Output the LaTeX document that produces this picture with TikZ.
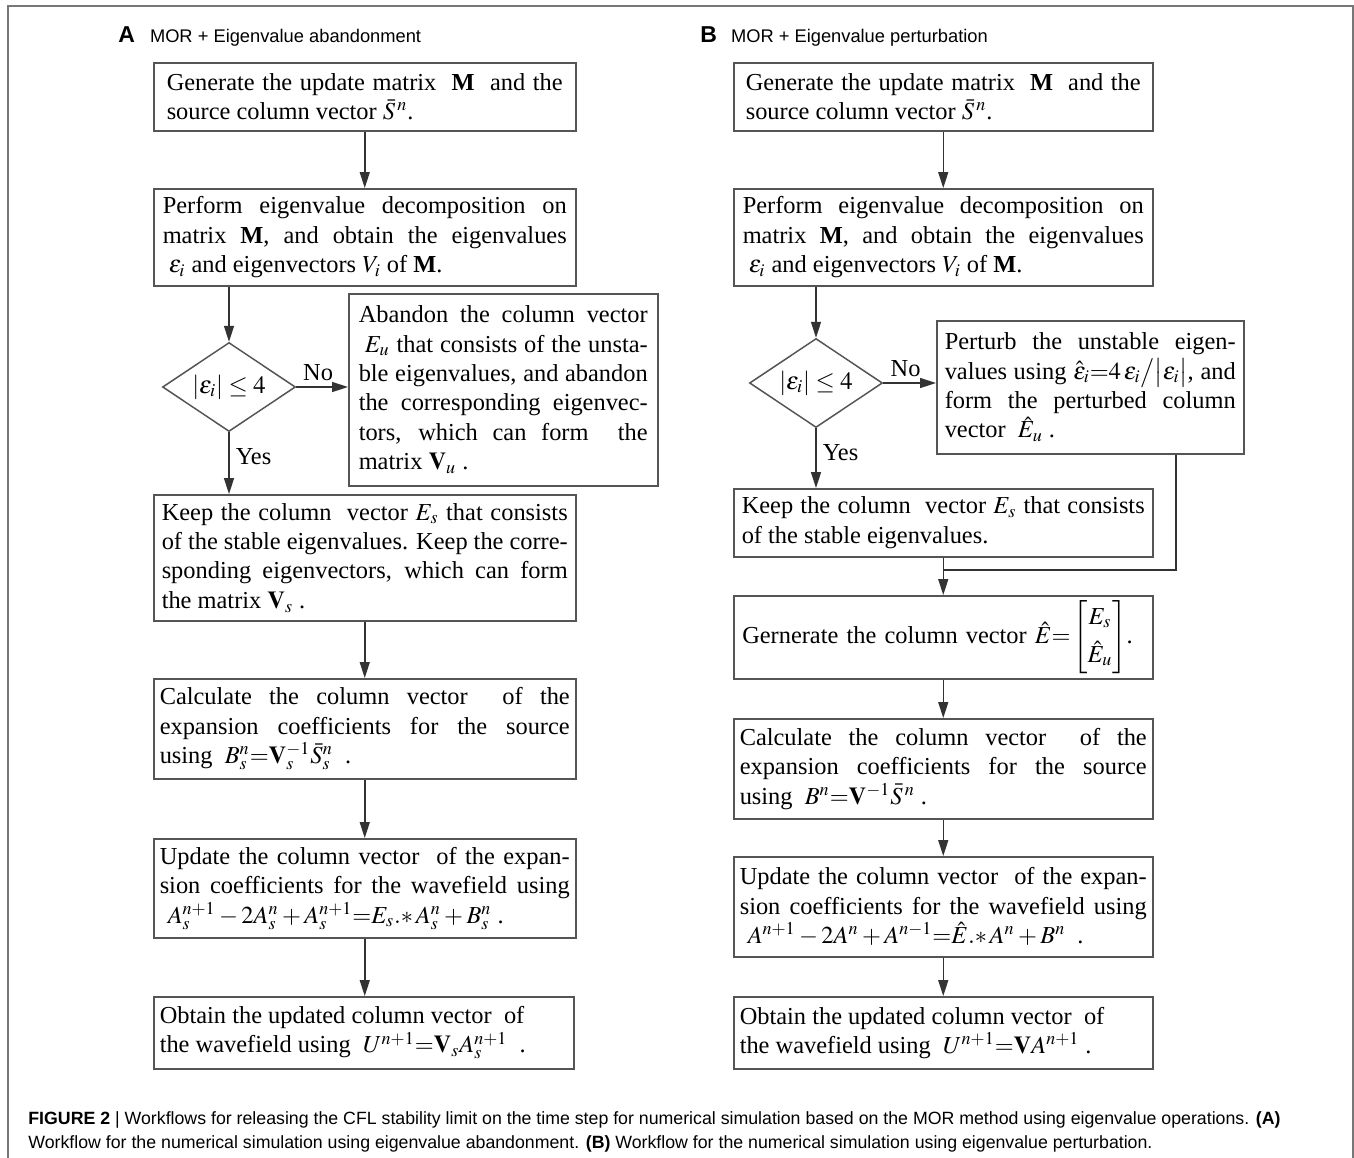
\documentclass[tikz,border=0pt]{standalone}
\usepackage{amsmath}
\usepackage{mathptmx}
\usepackage{fontspec}
\setmainfont{Liberation Serif}
\newfontfamily\sansf{Liberation Sans}
\usetikzlibrary{shapes.geometric,arrows.meta}
\definecolor{boxline}{HTML}{555555}
\definecolor{arrline}{HTML}{333333}
\definecolor{frameline}{HTML}{777777}
\begin{document}
\begin{tikzpicture}[x=0.5pt,y=-0.5pt,
  every node/.style={inner sep=0pt},
  box/.style={draw=boxline, line width=0.75pt, align=justify, inner xsep=3pt, inner ysep=0pt, anchor=north west, font=\fontsize{12.2}{14.7}\selectfont},
  dec/.style={draw=boxline, line width=0.75pt, diamond, aspect=1.5, minimum width=66.5pt, minimum height=44.5pt, inner sep=0pt, font=\fontsize{12.4}{14.7}\selectfont},
  arr/.style={draw=arrline, line width=0.75pt, -{Triangle[length=8pt,width=5pt]}},
  ln/.style={draw=arrline, line width=0.75pt},
  lbl/.style={font=\fontsize{12.2}{14.7}\selectfont},
  hdr/.style={anchor=base west, font=\sansf\fontsize{9.15}{11}\selectfont},
  captxt/.style={anchor=base west, font=\sansf\fontsize{8.87}{11}\selectfont}]
\useasboundingbox (0,0) rectangle (1354,1157);
\fill[white] (0,0) rectangle (1354,1157);
\draw[frameline, line width=0.8pt] (8,1160) -- (8,6) -- (1353,6) -- (1353,1160);

% headers
\node[hdr] (hA) at (118,42) {{\fontsize{11.5}{13}\selectfont\bfseries A}\hspace{7.5pt}MOR + Eigenvalue abandonment};
\node[hdr] (hB) at (700,42) {{\fontsize{11.5}{13}\selectfont\bfseries B}\hspace{7pt}MOR + Eigenvalue perturbation};

% panel A
\node[box, inner xsep=6.5pt, text width=198pt, minimum height=34pt] (A1) at (153,62)
  {Generate the update matrix \ \textbf{M} \ and the\linebreak source column vector $\bar{S}^{\,n}$.};
\node[box, inner xsep=4.5pt, text width=202pt, minimum height=48.5pt] (A2) at (153,188)
  {Perform eigenvalue decomposition on\linebreak matrix \textbf{M}, and obtain the eigenvalues\linebreak \hspace*{3pt}$\varepsilon_i$ and eigenvectors $V_i$ of \textbf{M}.};
\node[dec] (DA) at (229,387) {$\left|\varepsilon_i\right|\le 4$};
\node[box, inner xsep=5pt, text width=144.5pt, minimum height=96pt] (A3) at (348,293)
  {Abandon the column vector\linebreak \hspace*{3pt}$E_u$ that consists of the unsta-\linebreak ble eigenvalues, and abandon\linebreak the corresponding eigenvec-\linebreak tors, which can form \ the\linebreak matrix $\mathbf{V}_u$ .};
\node[box, inner xsep=4pt, text width=203pt, minimum height=63pt] (A4) at (153,494)
  {Keep the column \ vector $E_s$ that consists\linebreak of the stable eigenvalues. Keep the corre-\linebreak sponding eigenvectors, which can form\linebreak the matrix $\mathbf{V}_s$ .};
\node[box, text width=205pt, minimum height=50pt] (A5) at (153,678)
  {Calculate the column vector \ of the\linebreak expansion coefficients for the source\linebreak using \ $B_s^n{=}\mathbf{V}_s^{-1}\bar{S}_s^n$ \ .};
\node[box, text width=205pt, minimum height=49.5pt] (A6) at (153,838)
  {Update the column vector \ of the expan-\linebreak sion coefficients for the wavefield using\linebreak \hspace*{4pt}$A_s^{n+1}-2A_s^n+A_s^{n+1}{=}E_s.{*}\,A_s^n+B_s^n$ .};
\node[box, text width=204pt, minimum height=36pt] (A7) at (153,996)
  {Obtain the updated column vector \ of\\ the wavefield using \ $U^{n+1}{=}\mathbf{V}_s A_s^{n+1}$ \ .};

\draw[arr] (A1.south) -- (A2.north);
\draw[arr] (A2.south -| DA.north) -- (DA.north);
\draw[arr] (DA.east) -- (DA.east -| A3.west) node[lbl, midway, above=3pt, xshift=-2pt] (noA) {No};
\draw[arr] (DA.south) -- (DA.south |- A4.north) node[lbl, pos=0.4, right=3pt] (yesA) {Yes};
\draw[arr] (A4.south) -- (A5.north);
\draw[arr] (A5.south) -- (A6.north);
\draw[arr] (A6.south) -- (A6.south |- A7.north);

% panel B
\node[box, inner xsep=6pt, text width=197.5pt, minimum height=34pt] (B1) at (733,62)
  {Generate the update matrix \ \textbf{M} \ and the\linebreak source column vector $\bar{S}^{\,n}$.};
\node[box, inner xsep=4.5pt, text width=200.5pt, minimum height=48.5pt] (B2) at (733,188)
  {Perform eigenvalue decomposition on\linebreak matrix \textbf{M}, and obtain the eigenvalues\linebreak \hspace*{3pt}$\varepsilon_i$ and eigenvectors $V_i$ of \textbf{M}.};
\node[dec] (DB) at (816,383) {$\left|\varepsilon_i\right|\le 4$};
\node[box, inner xsep=4pt, text width=145.5pt, minimum height=66.5pt] (B3) at (936,320)
  {Perturb the unstable eigen-\linebreak values using $\hat{\varepsilon}_i{=}4\,\varepsilon_i\big/\big|\varepsilon_i\big|$, and\linebreak form the perturbed column\linebreak vector \ $\hat{E}_u$ .};
\node[box, inner xsep=4pt, text width=201.5pt, minimum height=34pt] (B4) at (733,488)
  {Keep the column \ vector $E_s$ that consists\linebreak of the stable eigenvalues.};
\node[box, inner xsep=2.25pt, text width=205pt, minimum height=41.5pt, align=left] (B5) at (733,595)
  {\mbox{\hspace*{2pt}Gernerate the column vector $\hat{E}{=}\left[\begin{array}{@{}c@{}}E_s\\[4pt] \hat{E}_u\end{array}\right]$.}};
\node[box, text width=203.5pt, minimum height=50pt] (B6) at (733,718)
  {Calculate the column vector \ of the\linebreak expansion coefficients for the source\linebreak using \ $B^n{=}\mathbf{V}^{-1}\bar{S}^{\,n}$ .};
\node[box, text width=203.5pt, minimum height=50pt] (B7) at (733,856)
  {Update the column vector \ of the expan-\linebreak sion coefficients for the wavefield using\linebreak \hspace*{4pt}$A^{n+1}-2A^n+A^{n-1}{=}\hat{E}.{*}\,A^n+B^n$ \ .};
\node[box, text width=203.5pt, minimum height=36pt] (B8) at (733,996)
  {Obtain the updated column vector \ of\\ the wavefield using \ $U^{n+1}{=}\mathbf{V}A^{n+1}$ .};

\coordinate (jy) at (0,570);
\coordinate (bx) at (1176,0);
\coordinate (J) at (B4.south |- jy);

\draw[arr] (B1.south) -- (B2.north);
\draw[arr] (B2.south -| DB.north) -- (DB.north);
\draw[arr] (DB.east) -- (DB.east -| B3.west) node[lbl, midway, above=3pt, xshift=-2pt] (noB) {No};
\draw[arr] (DB.south) -- (DB.south |- B4.north) node[lbl, pos=0.4, right=3pt] (yesB) {Yes};
\draw[ln] (B4.south) -- (J);
\draw[ln] (B3.south -| bx) |- (J);
\draw[arr] (J) -- (B5.north);
\draw[arr] (B5.south) -- (B6.north);
\draw[arr] (B6.south) -- (B7.north);
\draw[arr] (B7.south) -- (B8.north);

% caption
\node[captxt] (cap1) at (28,1124) {\textbf{FIGURE 2} | Workflows for releasing the CFL stability limit on the time step for numerical simulation based on the MOR method using eigenvalue operations. \textbf{(A)}};
\node[captxt] (cap2) at (28,1148) {Workflow for the numerical simulation using eigenvalue abandonment. \textbf{(B)} Workflow for the numerical simulation using eigenvalue perturbation.};
\end{tikzpicture}
\end{document}
